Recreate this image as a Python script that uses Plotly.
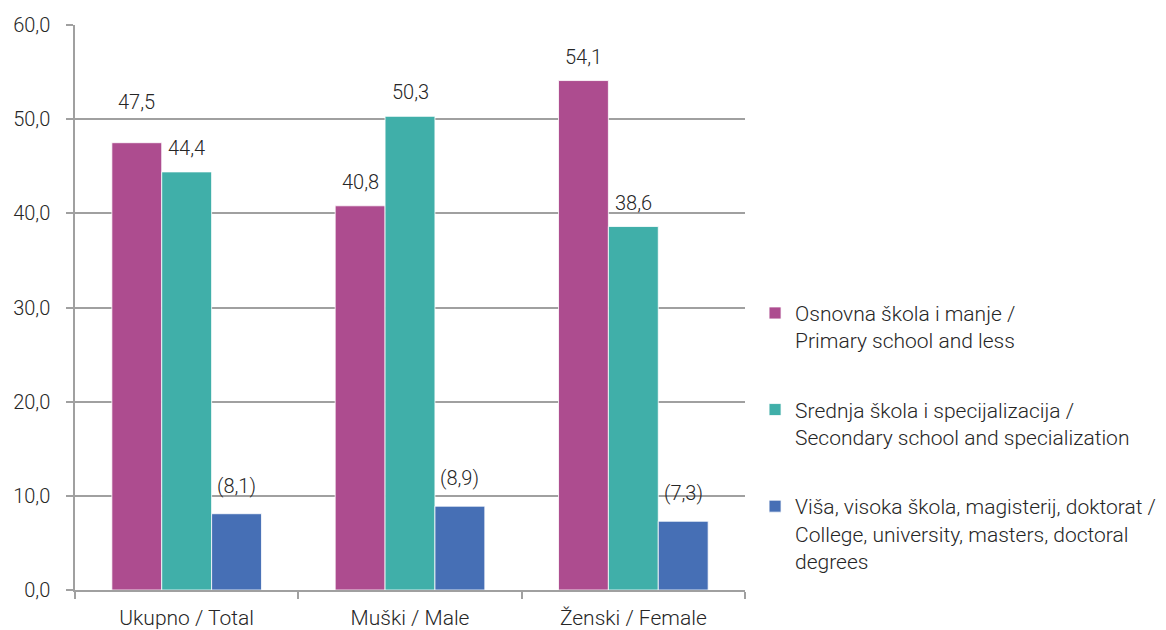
import plotly.graph_objects as go

# ── Data ─────────────────────────────────────────────────────────────────────
categories = ["Ukupno / Total", "Muški / Male", "Ženski / Female"]

series_names = [
    "Osnovna škola i manje /<br>Primary school and less",
    "Srednja škola i specijalizacija /<br>Secondary school and specialization",
    "Viša, visoka škola, magisterij, doktorat /<br>College, university, masters, doctoral<br>degrees",
]
primary = [47.5, 40.8, 54.1]
secondary = [44.4, 50.3, 38.6]
tertiary = [8.1, 8.9, 7.3]          # low-precision estimates, shown in brackets

colors = ["#AD4C8F", "#40AFA9", "#466FB5"]
BARGAP = 0.33
FONT = "Roboto, Arial, sans-serif"
TEXT = "#262626"
GRID = "#A0A0A0"
base_font = dict(family=FONT, size=20, color=TEXT, weight=300)
big_font = dict(family=FONT, size=21, color=TEXT, weight=300)


def fmt(v, bracket=False):
    s = f"{v:.1f}".replace(".", ",")
    return f"({s})" if bracket else s


fig = go.Figure()
all_series = [primary, secondary, tertiary]
for i, (name, vals) in enumerate(zip(series_names, all_series)):
    fig.add_trace(go.Bar(
        x=categories, y=vals, name=name,
        marker=dict(color=colors[i], line=dict(color="white", width=0.8)),
        legendgroup=f"g{i}",
        hoverinfo="skip",
    ))

# ── Value labels above bars (lifted a bit when they would touch the neighbour) ─
bar_w = (1 - BARGAP) / 3
for i, vals in enumerate(all_series):
    bracket = (i == 2)
    for c, v in enumerate(vals):
        shift = 14 if bracket else 10
        if i + 1 < len(all_series) and 0 < v - all_series[i + 1][c] < 4:
            shift += 17
        fig.add_annotation(
            x=c + (i - 1) * bar_w, y=v, xref="x", yref="y",
            text=fmt(v, bracket=bracket), showarrow=False,
            yanchor="bottom", yshift=shift,
            font=base_font,
        )

# page body adds an 8px offset, so the figure is 8px smaller than the window
fig.update_layout(
    width=1158, height=622,
    margin=dict(l=67, r=421, t=17, b=40, autoexpand=False),
    paper_bgcolor="white", plot_bgcolor="white",
    barmode="group", bargap=BARGAP, bargroupgap=0,
    separators=", ",
    font=base_font,
    showlegend=True,
    legend=dict(
        x=1.015, xanchor="left", y=0.526, yanchor="top",
        traceorder="grouped", tracegroupgap=39, valign="top",
        font=big_font, borderwidth=0, bgcolor="rgba(0,0,0,0)",
        itemwidth=30,
    ),
)
fig.update_yaxes(
    range=[0, 60], dtick=10, tickformat=".1f", automargin=False,
    showgrid=True, gridcolor=GRID, gridwidth=1.5,
    showline=True, linecolor=GRID, linewidth=1.5,
    ticks="outside", ticklen=7, tickcolor=GRID, tickwidth=1.5,
    ticklabelstandoff=12, zeroline=False,
    tickfont=base_font,
)
fig.update_xaxes(
    showline=True, linecolor=GRID, linewidth=1.5, automargin=False,
    ticks="outside", ticklen=7, tickcolor=GRID, tickwidth=1.5,
    tickson="boundaries", ticklabelstandoff=8,
    tickfont=big_font,
)

fig.write_html("out.html")
